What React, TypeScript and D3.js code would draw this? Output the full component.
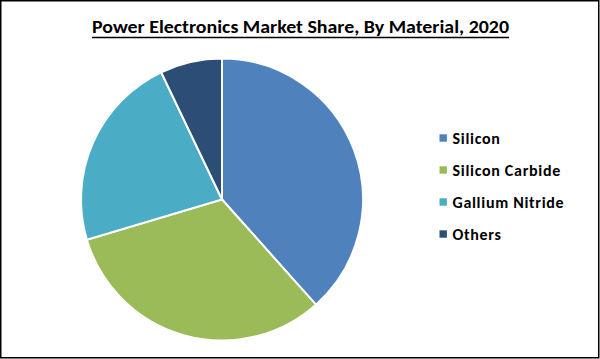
import React from "react";
import * as d3 from "d3";

const categories = ["Silicon", "Silicon Carbide", "Gallium Nitride", "Others"];
const shares = [38.4, 32.0, 22.5, 7.1];
const colors = ["#4f81bd", "#9bbb59", "#4bacc6", "#2c4d75"];
const title = "Power Electronics Market Share, By Material, 2020";

export default function App() {
  const W = 600, H = 359;
  const cx = 222, cy = 199.5, r = 141;
  const data = categories.map((c, i) => ({ c, v: shares[i], col: colors[i] }));
  const pie = d3.pie<any>().value((d: any) => d.v).sort(null);
  const arc = d3.arc<any>().innerRadius(0).outerRadius(r);
  const arcs = pie(data);
  const font = "Carlito, Calibri, 'Open Sans', 'Liberation Sans', sans-serif";
  return (
    <svg width={W} height={H} style={{ position: "absolute", left: 0, top: 0, background: "#fff" }}>
      <rect x={0.75} y={0.75} width={W - 2} height={H - 2} fill="#fff" stroke="#000" strokeWidth={1.5} />
      <text x={300.5} y={33} textAnchor="middle" fontFamily={font} fontWeight="bold" fontSize={17.5}
        textLength={417} lengthAdjust="spacingAndGlyphs" fill="#000">{title}</text>
      <line x1={92} x2={509} y1={37.5} y2={37.5} stroke="#000" strokeWidth={1.3} />
      <g transform={`translate(${cx},${cy})`}>
        {arcs.map((a, i) => (
          <path key={i} d={arc(a) as string} fill={a.data.col} stroke="#fff" strokeWidth={2} />
        ))}
      </g>
      {data.map((d, i) => (
        <g key={i} transform={`translate(439.5,${138 + i * 32})`}>
          <rect x={0} y={-3.7} width={7.4} height={7.4} fill={d.col} />
          <text x={13} y={5.5} fontFamily={font} fontWeight="bold" fontSize={16} letterSpacing={0.7} fill="#000">{d.c}</text>
        </g>
      ))}
    </svg>
  );
}
